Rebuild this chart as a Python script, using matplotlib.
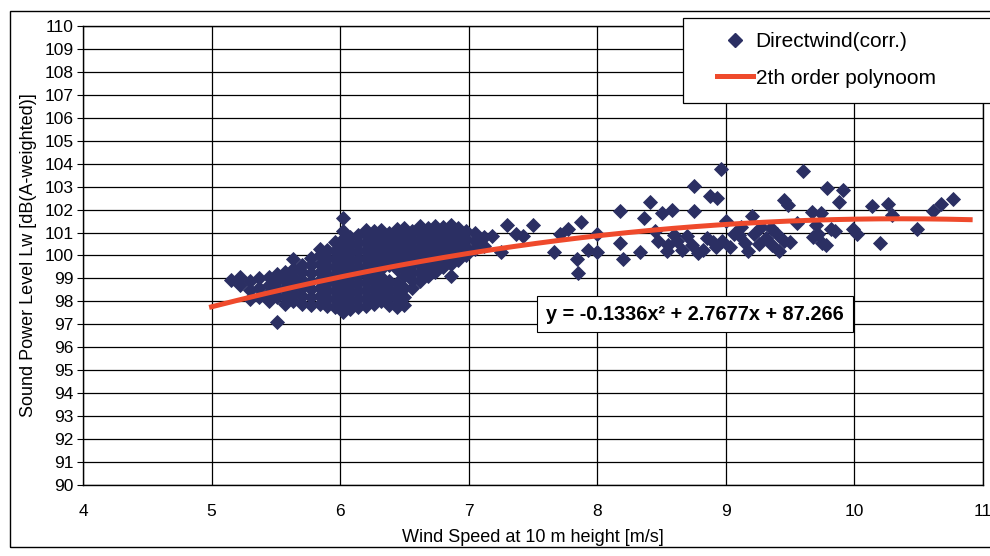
import matplotlib
matplotlib.use('Agg')
import matplotlib.pyplot as plt
from matplotlib.patches import Rectangle
from matplotlib.lines import Line2D
import numpy as np

# dense part of the cloud: one wind speed per column, the Lw values read in that column
core_wind = [5.15, 5.22, 5.30, 5.37, 5.45, 5.51, 5.57, 5.63, 5.70, 5.77, 5.84,
             5.90, 5.96, 6.02, 6.08, 6.14, 6.20, 6.26, 6.32, 6.38, 6.44, 6.50,
             6.56, 6.62, 6.68, 6.74, 6.80, 6.86, 6.92, 6.98, 7.05, 7.12]
core_lw = [
    [98.95],
    [98.7, 99.05],
    [98.1, 98.5, 98.9],
    [98.2, 98.6, 99.0],
    [98.0, 98.35, 98.7, 99.05],
    [97.1, 98.2, 98.55, 98.9, 99.2],
    [97.9, 98.25, 98.6, 98.95, 99.3],
    [98.0, 98.35, 98.7, 99.05, 99.4, 99.85],
    [97.9, 98.25, 98.6, 98.95, 99.3, 99.6],
    [97.85, 98.2, 98.55, 98.9, 99.25, 99.6, 99.9],
    [97.9, 98.25, 98.6, 98.95, 99.3, 99.65, 100.0, 100.3],
    [97.8, 98.15, 98.5, 98.85, 99.2, 99.55, 99.9, 100.25],
    [97.75, 98.1, 98.45, 98.8, 99.15, 99.5, 99.85, 100.2, 100.6],
    [97.55, 97.9, 98.25, 98.6, 98.95, 99.3, 99.65, 100.0, 100.35, 100.7, 101.05, 101.65],
    [97.65, 98.0, 98.35, 98.7, 99.05, 99.4, 99.75, 100.1, 100.45, 100.8],
    [97.75, 98.1, 98.45, 98.8, 99.15, 99.5, 99.85, 100.2, 100.55, 100.9],
    [97.8, 98.15, 98.5, 98.85, 99.2, 99.55, 99.9, 100.25, 100.6, 100.95, 101.1],
    [97.9, 98.25, 98.6, 98.95, 99.3, 99.65, 100.0, 100.35, 100.7, 101.05],
    [98.0, 98.35, 98.7, 99.05, 99.4, 99.75, 100.1, 100.45, 100.8, 101.1],
    [97.85, 98.2, 98.55, 98.9, 99.6, 99.95, 100.3, 100.65, 101.0],
    [97.75, 98.1, 98.45, 98.8, 99.4, 99.75, 100.1, 100.45, 100.8, 101.15],
    [97.85, 98.2, 98.6, 99.1, 99.5, 99.85, 100.2, 100.55, 100.9, 101.2],
    [98.6, 98.95, 99.3, 99.65, 100.0, 100.35, 100.7, 101.05],
    [98.9, 99.25, 99.6, 99.95, 100.3, 100.65, 101.0, 101.3],
    [99.1, 99.45, 99.8, 100.15, 100.5, 100.85, 101.2],
    [99.3, 99.65, 100.0, 100.35, 100.7, 101.05, 101.3],
    [99.5, 99.85, 100.2, 100.55, 100.9, 101.25],
    [99.1, 99.65, 100.0, 100.35, 100.7, 101.05, 101.35],
    [99.8, 100.15, 100.5, 100.85, 101.2],
    [100.0, 100.35, 100.7, 101.05],
    [100.3, 100.65, 101.0],
    [100.4, 100.8],
]

# scattered points above 7 m/s
spread_wind = [7.18, 7.25, 7.30, 7.37, 7.42, 7.50, 7.66, 7.71, 7.77, 7.87,
               7.84, 7.85, 7.93, 8.00, 8.00, 8.18, 8.20, 8.18, 8.33, 8.41,
               8.36, 8.45, 8.50, 8.47,
               8.96, 8.75, 8.58, 8.75, 8.88, 8.93, 8.54, 8.78, 8.60, 8.90,
               9.00, 9.10, 9.17, 9.26, 9.20, 9.41, 9.45, 9.48, 9.60, 9.55,
               9.50, 9.67, 9.68, 9.35,
               8.55, 8.62, 8.66, 8.70, 8.74, 8.82, 8.85, 8.92, 8.97, 9.03,
               9.06, 9.12, 9.15, 9.22, 9.27, 9.31, 9.36, 9.40, 9.45,
               9.79, 9.91, 9.88, 9.74, 9.75, 9.72, 9.82, 9.99, 10.02, 10.14,
               10.26, 10.29, 10.20, 10.49, 10.61, 10.67, 10.77, 9.70, 9.78, 9.85]
spread_lw = [100.85, 100.15, 101.35, 100.95, 100.85, 101.35, 100.15, 100.95, 101.15, 101.45,
             99.85, 99.25, 100.25, 100.15, 100.95, 101.95, 99.85, 100.55, 100.15, 102.35,
             101.65, 101.05, 101.85, 100.65,
             103.75, 103.05, 102.0, 101.95, 102.6, 102.5, 100.2, 100.1, 100.9, 100.6,
             101.5, 100.9, 100.2, 100.5, 101.7, 100.2, 102.4, 102.2, 103.7, 101.4,
             100.6, 101.9, 100.8, 101.2,
             100.45, 100.65, 100.25, 100.85, 100.45, 100.25, 100.75, 100.35, 100.65, 100.35,
             100.95, 101.25, 100.55, 100.95, 101.25, 100.75, 100.45, 100.95, 100.65,
             102.95, 102.85, 102.35, 101.85, 100.55, 100.95, 101.15, 101.15, 100.95, 102.15,
             102.25, 101.75, 100.55, 101.15, 101.95, 102.25, 102.45, 101.35, 100.45, 101.05]

# trendline coefficients as printed on the chart
poly_a, poly_b, poly_c = -0.1336, 2.7677, 87.266
fit_range = (5.0, 10.9)

navy = '#2b2f63'
red = '#ef4a2c'

plt.rcParams['font.family'] = ['Liberation Sans', 'DejaVu Sans']

wind = []
lw = []
for x, col in zip(core_wind, core_lw):
    for y in col:
        wind.append(x)
        lw.append(y)
wind += spread_wind
lw += spread_lw

W, H = 990, 556
fig = plt.figure(figsize=(W / 100, H / 100), dpi=100)
fig.patch.set_facecolor('white')
ax = fig.add_axes([83 / W, 1 - 485 / H, (983 - 83) / W, (485 - 26) / H])

ax.plot(wind, lw, ls='none', marker='D', ms=7.3, color=navy,
        markeredgecolor=navy, markeredgewidth=0.6, zorder=2)

xf = np.linspace(fit_range[0], fit_range[1], 200)
ax.plot(xf, poly_a * xf ** 2 + poly_b * xf + poly_c, color=red, lw=3.6, zorder=3)

ax.set_xlim(4, 11)
ax.set_ylim(90, 110)
ax.set_xticks(range(4, 12))
ax.set_yticks(range(90, 111))
ax.grid(True, color='black', lw=0.9)
ax.set_axisbelow(True)
for s in ax.spines.values():
    s.set_color('black')
    s.set_linewidth(1.0)
ax.tick_params(axis='y', direction='out', length=4, pad=3, labelsize=12.5)
ax.tick_params(axis='x', length=0, pad=14, labelsize=12.5)
ax.set_xlabel('Wind Speed at 10 m height [m/s]', fontsize=13, labelpad=7)
ax.set_ylabel('Sound Power Level Lw [dB(A-weighted)]', fontsize=13, labelpad=5)

ax.text(8.76, 97.45, 'y = -0.1336x² + 2.7677x + 87.266',
        family=['Liberation Sans Narrow', 'Liberation Sans', 'DejaVu Sans'],
        fontsize=14.3, fontweight='bold', ha='center', va='center', zorder=5,
        bbox=dict(boxstyle='square,pad=0.45', fc='white', ec='black', lw=0.8))

# outer chart border and legend box
fig.patches.append(Rectangle((10 / W, 1 - 547 / H), 1.2, (547 - 11) / H,
                             transform=fig.transFigure, fill=False,
                             ec='black', lw=1.0, zorder=1))
fig.patches.append(Rectangle((683 / W, 1 - 103 / H), 0.5, (103 - 18) / H,
                             transform=fig.transFigure, fc='white',
                             ec='black', lw=0.9, zorder=4))

handles = [Line2D([], [], ls='none', marker='D', ms=7.3, color=navy),
           Line2D([], [], color=red, lw=3.6)]
fig.legend(handles, ['Directwind(corr.)', '2th order polynoom'],
           loc='upper left', bbox_to_anchor=(717 / W, 1 - 32 / H),
           frameon=False, fontsize=15, handlelength=1.75, handletextpad=0.1,
           labelspacing=0.85, borderpad=0, borderaxespad=0)

fig.savefig('out.png', dpi=100)
